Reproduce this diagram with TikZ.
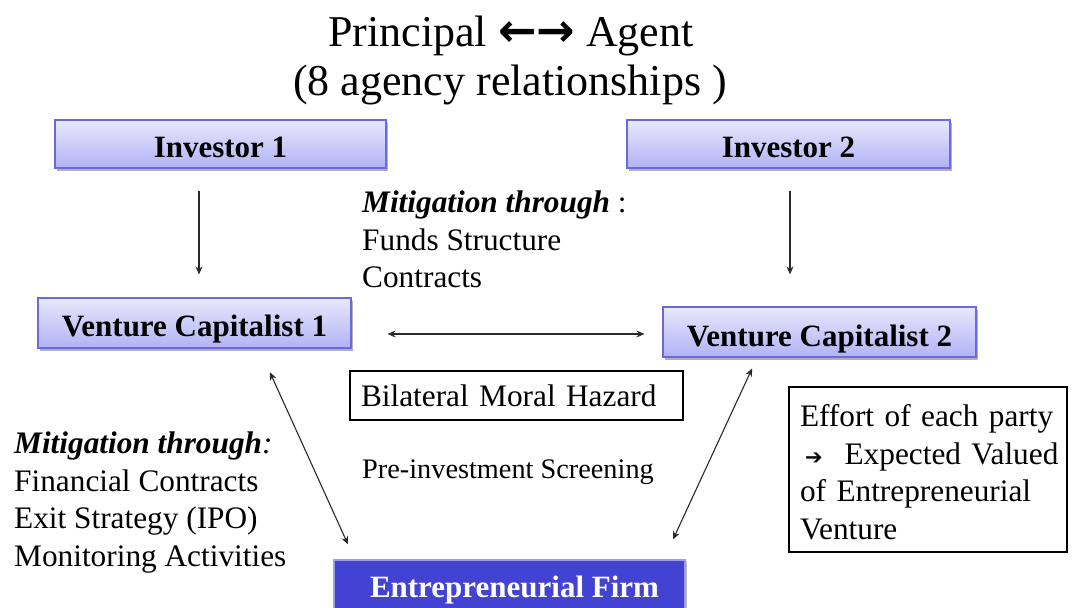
\documentclass[tikz,border=0pt]{standalone}
\usepackage{fontspec}
\setmainfont{Liberation Serif}
\newfontfamily\symfont{DejaVu Sans}
\usetikzlibrary{arrows.meta,shadows}
\definecolor{boxtop}{HTML}{E8E8FC}
\definecolor{boxbot}{HTML}{B2B2F6}
\definecolor{boxborder}{HTML}{6A6ADC}
\definecolor{firmfill}{HTML}{4343D3}
\definecolor{firmborder}{HTML}{9C9CEA}
\definecolor{arrowgray}{HTML}{2A2A2A}
\begin{document}
\begin{tikzpicture}[x=1pt,y=-1pt,
  vbox/.style={draw=boxborder, line width=1.2pt, top color=boxtop, bottom color=boxbot,
    font=\fontsize{31}{36}\selectfont\bfseries, inner sep=0pt, text height=26pt, text depth=0pt,
    drop shadow={shadow xshift=1.5pt, shadow yshift=-2.5pt, opacity=0.3, fill=black}},
  firmbox/.style={draw=firmborder, line width=1.2pt, fill=firmfill, text=white,
    font=\fontsize{31}{36}\selectfont\bfseries, inner sep=0pt,
    drop shadow={shadow xshift=2pt, shadow yshift=-1pt, opacity=0.25, fill=black}},
  framebox/.style={draw=black, line width=1.8pt, font=\fontsize{31.3}{37.5}\selectfont,
    align=left, inner xsep=11pt},
  txt/.style={anchor=base west, inner sep=0pt, font=\fontsize{31.3}{36}\selectfont},
  ttl/.style={anchor=base, inner sep=0pt, font=\fontsize{44}{48}\selectfont},
  arr/.style={draw=arrowgray, line width=1.1pt, -{Stealth[length=8pt,width=7pt]}},
  darr/.style={draw=arrowgray, line width=1.1pt, {Stealth[length=8pt,width=7pt]}-{Stealth[length=8pt,width=7pt]}}
]
\clip (0,0) rectangle (1072,608);
\fill[white] (0,0) rectangle (1072,608);

% title
\node[ttl] (t1) at (511,46) {Principal {\symfont\bfseries\fontsize{46}{48}\selectfont ←→} Agent};
\node[ttl] (t2) at (510,95) {(8 agency relationships )};

% boxes
\node[vbox, minimum width=331pt, minimum height=48pt] (inv1) at (220.5,144) {Investor 1};
\node[vbox, minimum width=323pt, minimum height=48pt] (inv2) at (788.5,144) {Investor 2};
\node[vbox, minimum width=313pt, minimum height=50pt] (vc1) at (194.5,323) {Venture Capitalist 1};
\node[vbox, minimum width=313pt, minimum height=50pt, text height=28pt] (vc2) at (819.5,332) {Venture Capitalist 2};
\node[firmbox, minimum width=351pt, minimum height=60pt] (firm) at (509.5,590) {\hspace*{10pt}Entrepreneurial Firm};

\node[framebox, text width=311pt, minimum height=49pt, inner ysep=0pt] (bmh) at (516.5,395.5) {Bilateral Moral Hazard};
\node[framebox, text width=256pt, minimum height=165pt, inner ysep=0pt] (eff) at (928,469.5)
  {\rule{0pt}{27pt}Effort of each party\\
   \mbox{\hspace*{5pt}{\symfont\fontsize{21}{21}\selectfont ➔}\hspace{22pt}Expected Valued}\\
   of Entrepreneurial\\
   Venture};

% texts
\node[txt] (m1) at (362,212) {\textbf{\textit{Mitigation through}} :};
\node[txt] (m2) at (362,250) {Funds Structure};
\node[txt] (m3) at (362,287) {Contracts};

\node[txt] (l1) at (14,453) {\textbf{\textit{Mitigation through}}\textit{:}};
\node[txt] (l2) at (14,491) {Financial Contracts};
\node[txt] (l3) at (14,528) {Exit Strategy (IPO)};
\node[txt] (l4) at (14,566) {Monitoring Activities};

\node[txt, font=\fontsize{28.3}{34}\selectfont] (pre) at (362,478) {Pre-investment Screening};

% connectors
\draw[arr, shorten <=22pt, shorten >=23pt] ([xshift=-21.5pt]inv1.south) -- ([xshift=4.5pt]vc1.north);
\draw[arr, shorten <=22pt, shorten >=32pt] ([xshift=1.5pt]inv2.south) -- ([xshift=-29.5pt]vc2.north);
\draw[darr, shorten <=36pt, shorten >=18pt] ([yshift=-11pt]vc1.east) -- ([yshift=-2pt]vc2.west);
\draw[darr, shorten <=26pt, shorten >=16.5pt] ([xshift=64.7pt]vc1.south) -- ([xshift=-154.7pt]firm.north);
\draw[darr, shorten <=12pt, shorten >=22pt] ([xshift=-62.4pt]vc2.south) -- ([xshift=154.3pt]firm.north);
\end{tikzpicture}
\end{document}
